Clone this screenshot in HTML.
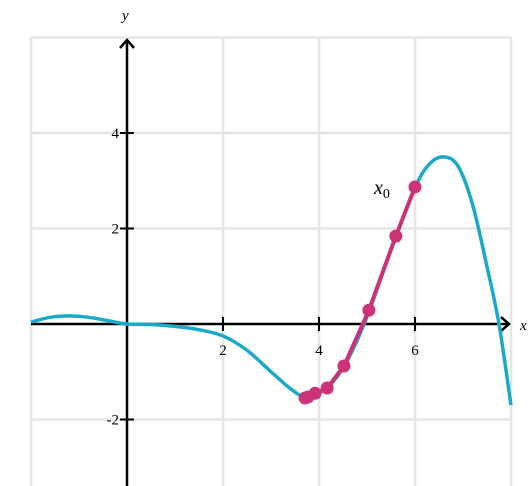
<!DOCTYPE html>
<html><head><meta charset="utf-8"><style>
body{margin:0;background:#fff}
svg{display:block;font-family:"Liberation Serif",serif}
</style></head><body>
<svg id="chart" width="530" height="486"></svg>
<script>
const curveX=[-2,-1.6,-1.2,-0.8,-0.4,0,0.5,1,1.5,2,2.5,3,3.4,3.7,4,4.3,4.6,5,5.5,6,6.3,6.6,6.9,7.2,7.5,7.75,8];
const curveY=[0.04,0.14,0.17,0.14,0.07,0,-0.01,-0.05,-0.12,-0.25,-0.55,-1.0,-1.35,-1.53,-1.45,-1.2,-0.75,0.15,1.55,2.85,3.35,3.5,3.3,2.5,1.2,0,-1.7];
const ptX=[3.71,3.77,3.92,4.17,4.52,5.04,5.6,6.0];
const ptY=[-1.55,-1.53,-1.45,-1.34,-0.88,0.29,1.84,2.87];
const xTicks=[2,4,6], yTicks=[-2,2,4];
const sx=x=>127+x*48, sy=y=>324-y*47.75;
const svg=document.getElementById('chart');const NS='http://www.w3.org/2000/svg';
function el(t,a,p){const e=document.createElementNS(NS,t);for(const k in a)e.setAttribute(k,a[k]);(p||svg).appendChild(e);return e;}
const grid=el('g',{});


for(let x=-2;x<=8;x+=2){const l=el('line',{x1:sx(x),x2:sx(x),y1:37,y2:486,stroke:'#e6e6e6','stroke-width':2.5},grid);}
for(let y=-2;y<=6;y+=2){if(y===0)continue;el('line',{x1:31,x2:511,y1:sy(y),y2:sy(y),stroke:'#e6e6e6','stroke-width':2.5},grid);}
// curve
let d='';const P=curveX.map((x,i)=>[sx(x),sy(curveY[i])]);
d='M'+P[0];for(let i=0;i<P.length-1;i++){const p0=P[i-1]||P[i],p1=P[i],p2=P[i+1],p3=P[i+2]||p2;
d+=` C${p1[0]+(p2[0]-p0[0])/6},${p1[1]+(p2[1]-p0[1])/6} ${p2[0]-(p3[0]-p1[0])/6},${p2[1]-(p3[1]-p1[1])/6} ${p2[0]},${p2[1]}`;}
// axes
const ax=el('g',{});


el('line',{x1:31,x2:509,y1:324,y2:324,stroke:'#000','stroke-width':2.5},ax);
el('path',{d:'M501,317 L509,324 L501,331',fill:'none',stroke:'#000','stroke-width':2.5},ax);
el('line',{x1:127,x2:127,y1:486,y2:40,stroke:'#000','stroke-width':2.5},ax);
el('path',{d:'M120,48 L127,40 L134,48',fill:'none',stroke:'#000','stroke-width':2.5},ax);
xTicks.forEach(v=>{el('line',{x1:sx(v),x2:sx(v),y1:317,y2:331,stroke:'#000','stroke-width':2},ax);const t=el('text',{x:sx(v),y:355,'text-anchor':'middle','font-size':15},ax);t.textContent=v;});
yTicks.forEach(v=>{el('line',{x1:120,x2:134,y1:sy(v),y2:sy(v),stroke:'#000','stroke-width':2},ax);const t=el('text',{x:119,y:sy(v)+5,'text-anchor':'end','font-size':15},ax);t.textContent=v;});
const xl=el('text',{x:520,y:330,'font-size':15,'font-style':'italic'});xl.textContent='x';


const yl=el('text',{x:122,y:20,'font-size':15,'font-style':'italic'});yl.textContent='y';


const c=el('path',{d:d,fill:'none',stroke:'#1ba9c9','stroke-width':3.5});


const pl=el('polyline',{points:ptX.map((x,i)=>sx(x)+','+sy(ptY[i])).join(' '),fill:'none',stroke:'#cc3377','stroke-width':4,'stroke-linejoin':'round'});


ptX.forEach((x,i)=>{const p=el('circle',{cx:sx(x),cy:sy(ptY[i]),r:6.5,fill:'#cc3377'});});
const lb=el('text',{x:374,y:194,'font-size':20,'font-style':'italic'});lb.innerHTML='x<tspan font-size="14" font-style="normal" dy="4">0</tspan>';


</script>
</body></html>
